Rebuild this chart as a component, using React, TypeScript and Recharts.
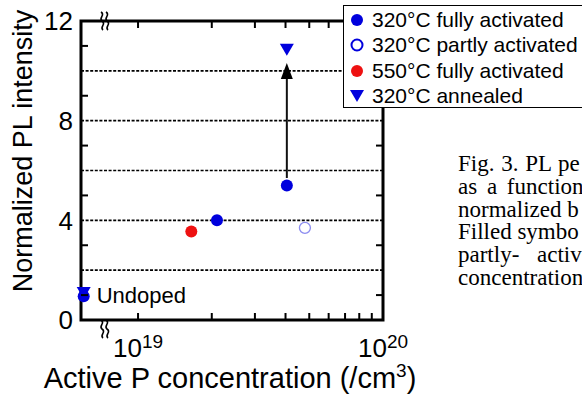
import React from "react";
import {
  ReferenceArea,
  ReferenceDot,
  ReferenceLine,
  Scatter,
  ScatterChart,
  XAxis,
  YAxis,
} from "recharts";

const SANS = "'Liberation Sans', Arial, sans-serif";
const SERIF = "'Liberation Serif', 'Times New Roman', serif";
const BLUE = "#0000dd";
const RED = "#ee1111";

// axis ranges and ticks
const xDomain = [5.85e18, 1e20];
const xTicks = [1e19, 2e19, 3e19, 4e19, 5e19, 6e19, 7e19, 8e19, 9e19, 1e20];
const xTickLabels = [
  { value: 1e19, exp: "19" },
  { value: 1e20, exp: "20" },
];
const yDomain = [0, 12];
const yTicks = [0, 1, 2, 3, 4, 5, 6, 7, 8, 9, 10, 11, 12];
const yLabelled = [0, 4, 8, 12];
const gridValues = [2, 4, 6, 8, 10];
const breakX = 7.4e18;

// series
const fully320 = [
  { x: 6.0e18, y: 0.95 },
  { x: 2.1e19, y: 4.0 },
  { x: 4.05e19, y: 5.4 },
];
const partly320 = [{ x: 4.8e19, y: 3.7 }];
const fully550 = [{ x: 1.65e19, y: 3.55 }];
const annealed320 = [
  { x: 6.0e18, y: 1.08 },
  { x: 4.05e19, y: 10.85 },
];
const arrowLine = [
  { x: 4.05e19, y: 5.7 },
  { x: 4.05e19, y: 10.0 },
];
const arrowHead = [{ x: 4.05e19, y: 10.31 }];

const legendItems = [
  { label: "320°C fully activated", kind: "dot", color: BLUE },
  { label: "320°C partly activated", kind: "ring", color: BLUE },
  { label: "550°C fully activated", kind: "dot", color: RED },
  { label: "320°C annealed", kind: "tri", color: BLUE },
];

// caption is cut by the right edge in the source, only the visible part is kept
const captionLines = [
  { text: "Fig. 3. PL pe", spacing: 1 },
  { text: "as a function", spacing: 4 },
  { text: "normalized b", spacing: 0 },
  { text: "Filled symbo", spacing: 0 },
  { text: "partly- activ", spacing: 12 },
  { text: "concentration", spacing: 0 },
];

const PLOT_W = 302;
const PLOT_H = 299;
const TICK = 7;

const dotShape = (color: string) => (p: any) =>
  <circle cx={p.cx} cy={p.cy} r={6} fill={color} />;

const ringShape = (p: any) => (
  <circle cx={p.cx} cy={p.cy} r={5.5} fill="#fff" stroke="#8c8cf0" strokeWidth={1.3} />
);

const triShape = (p: any) => (
  <path d={`M${p.cx - 7} ${p.cy - 6} L${p.cx + 7} ${p.cy - 6} L${p.cx} ${p.cy + 6} Z`} fill={BLUE} />
);

const arrowHeadShape = (p: any) => (
  <path d={`M${p.cx} ${p.cy} L${p.cx - 6} ${p.cy + 16} L${p.cx + 6} ${p.cy + 16} Z`} fill="#000" />
);

const noShape = () => <g />;

const breakShape = (below: boolean) => (p: any) => {
  const cy = p.cy + (below ? 9 : 0);
  const s = (dx: number) =>
    `M${p.cx + dx - 3} ${cy - 9} c 5 3, -3 6, 1 9 c 5 3, -3 6, 1 9`;
  return (
    <g fill="none" stroke="#000" strokeWidth={1.6}>
      <path d={s(-2)} />
      <path d={s(3)} />
    </g>
  );
};

function XTick({ x, y, payload }: any) {
  const lab = xTickLabels.find((t) => Math.abs(t.value - payload.value) < t.value * 1e-6);
  const edge = payload.value >= 1e20;
  return (
    <g>
      {!edge && (
        <>
          <line x1={x} x2={x} y1={y} y2={y - TICK} stroke="#000" strokeWidth={2} />
          <line x1={x} x2={x} y1={y - PLOT_H} y2={y - PLOT_H + TICK} stroke="#000" strokeWidth={2} />
        </>
      )}
      {lab && (
        <text x={x} y={y + 37} textAnchor="middle" fontFamily={SANS} fontSize={26} fill="#000">
          10
          <tspan dy={-9} fontSize={19}>
            {lab.exp}
          </tspan>
        </text>
      )}
    </g>
  );
}

function YTick({ x, y, payload }: any) {
  const v = payload.value;
  return (
    <g>
      {v % 2 === 1 && (
        <>
          <line x1={x} x2={x + TICK} y1={y} y2={y} stroke="#000" strokeWidth={2} />
          <line x1={x + PLOT_W - TICK} x2={x + PLOT_W} y1={y} y2={y} stroke="#000" strokeWidth={2} />
        </>
      )}
      {yLabelled.includes(v) && (
        <text x={x - 8} y={y} dy="0.36em" textAnchor="end" fontFamily={SANS} fontSize={26} fill="#000">
          {v}
        </text>
      )}
    </g>
  );
}

function Legend() {
  return (
    <div
      style={{
        position: "absolute",
        left: 343,
        top: 5,
        width: 260,
        height: 101,
        border: "1.5px solid #000",
        background: "#fff",
        fontFamily: SANS,
        fontSize: 21,
        color: "#000",
      }}
    >
      {legendItems.map((it, i) => (
        <div
          key={it.label}
          style={{ position: "absolute", left: 0, top: 1 + i * 25.5, height: 25, display: "flex", alignItems: "center", whiteSpace: "nowrap" }}
        >
          <svg width={28} height={20}>
            {it.kind === "dot" && <circle cx={13} cy={10} r={6} fill={it.color} />}
            {it.kind === "ring" && <circle cx={13} cy={10} r={5.5} fill="#fff" stroke={it.color} strokeWidth={2} />}
            {it.kind === "tri" && <path d="M6 4 L20 4 L13 16 Z" fill={it.color} />}
          </svg>
          <span>{it.label}</span>
        </div>
      ))}
    </div>
  );
}

export default function App() {
  return (
    <div style={{ position: "absolute", left: 0, top: 0, width: 582, height: 396, overflow: "hidden", background: "#fff" }}>
      <ScatterChart width={582} height={396} margin={{ top: 21, right: 199, bottom: 0, left: 0 }}>
        <XAxis
          type="number"
          dataKey="x"
          scale="log"
          domain={xDomain}
          ticks={xTicks}
          interval={0}
          tick={<XTick />}
          tickLine={false}
          axisLine={false}
          tickSize={0}
          tickMargin={0}
          height={76}
          label={{
            content: ({ viewBox }: any) => (
              <text
                x={viewBox.x + viewBox.width / 2 - 2}
                y={viewBox.y + 68}
                textAnchor="middle"
                fontFamily={SANS}
                fontSize={29}
                fill="#000"
              >
                Active P concentration (/cm
                <tspan dy={-11} fontSize={19}>3</tspan>
                <tspan dy={11}>)</tspan>
              </text>
            ),
          }}
        />
        <YAxis
          type="number"
          dataKey="y"
          domain={yDomain}
          ticks={yTicks}
          interval={0}
          tick={<YTick />}
          tickLine={false}
          axisLine={false}
          tickSize={0}
          tickMargin={0}
          width={81}
          label={{
            content: ({ viewBox }: any) => {
              const cx = viewBox.x + 22.5;
              const cy = viewBox.y + 130;
              return (
                <text
                  x={cx}
                  y={cy}
                  dy="0.36em"
                  textAnchor="middle"
                  transform={`rotate(-90 ${cx} ${cy})`}
                  fontFamily={SANS}
                  fontSize={27}
                  fill="#000"
                >
                  Normalized PL intensity
                </text>
              );
            },
          }}
        />
        {gridValues.map((v) => (
          <ReferenceLine key={v} y={v} stroke="#000" strokeWidth={1.6} strokeDasharray="3 1.6" />
        ))}
        <ReferenceArea
          x1={xDomain[0]}
          x2={xDomain[1]}
          y1={yDomain[0]}
          y2={yDomain[1]}
          fill="none"
          fillOpacity={0}
          stroke="#000"
          strokeWidth={3}
          ifOverflow="visible"
        />
        <ReferenceDot x={breakX} y={12} r={0} shape={breakShape(false)} ifOverflow="visible" />
        <ReferenceDot x={breakX} y={0} r={0} shape={breakShape(true)} ifOverflow="visible" />
        <Scatter data={arrowLine} line={{ stroke: "#111", strokeWidth: 2 }} shape={noShape} isAnimationActive={false} />
        <Scatter data={arrowHead} shape={arrowHeadShape} isAnimationActive={false} />
        <Scatter data={fully550} shape={dotShape(RED)} isAnimationActive={false} />
        <Scatter data={partly320} shape={ringShape} isAnimationActive={false} />
        <Scatter data={annealed320} shape={triShape} isAnimationActive={false} />
        <Scatter data={fully320} shape={dotShape(BLUE)} isAnimationActive={false} />
        <ReferenceDot
          x={6.0e18}
          y={1}
          r={0}
          ifOverflow="visible"
          label={{ value: "Undoped", position: "right", offset: 13, fontFamily: SANS, fontSize: 22, fill: "#000" }}
        />
      </ScatterChart>
      <Legend />
      <div
        style={{
          position: "absolute",
          left: 458,
          top: 153,
          fontFamily: SERIF,
          fontSize: 23,
          lineHeight: "22.8px",
          color: "#000",
          whiteSpace: "nowrap",
        }}
      >
        {captionLines.map((l) => (
          <div key={l.text} style={{ wordSpacing: l.spacing }}>
            {l.text}
          </div>
        ))}
      </div>
    </div>
  );
}
